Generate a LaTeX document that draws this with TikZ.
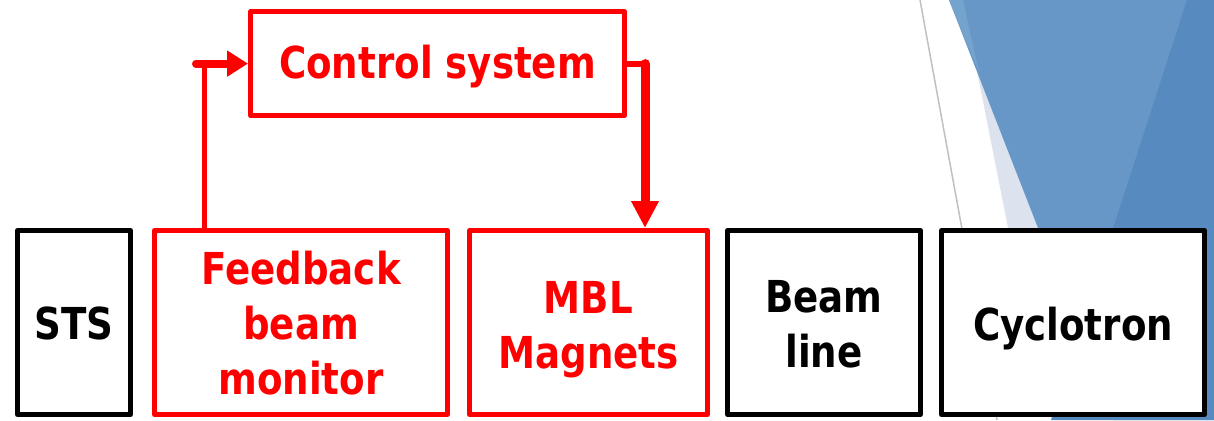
\documentclass[tikz,border=0pt]{standalone}
\usepackage{fontspec}
\setmainfont{DejaVu Sans}[FakeStretch=0.845]
\usetikzlibrary{arrows.meta}
\definecolor{rd}{HTML}{FF0000}
\definecolor{bmid}{HTML}{6797C6}
\definecolor{bdark}{HTML}{578ABE}
\definecolor{blite}{HTML}{74A3CD}
\definecolor{lav}{HTML}{DDE2EF}
\definecolor{gline}{HTML}{C0C0C0}
\tikzset{
  blk/.style={draw=black, fill=white, line width=5pt, rectangle, line join=round, inner sep=0pt},
  redblk/.style={blk, draw=rd},
  txt/.style={align=center, inner sep=0pt, font=\fontsize{44}{55}\selectfont\bfseries, text=black},
  redtxt/.style={txt, text=rd},
  conn/.style={draw=rd, line cap=round},
}
\begin{document}
\begin{tikzpicture}[x=1pt,y=-1pt]
\useasboundingbox (0,0) rectangle (1214,420);
% background decoration
\fill[lav] (963,0) -- (1008,228) -- (1040,228) -- cycle;
\fill[bmid] (949,0) -- (1214,0) -- (1214,420) -- (1113,420) -- cycle;
\fill[blite] (949,0) -- (963,0) -- (979,72) -- cycle;
\fill[bdark] (1187,0) -- (1214,0) -- (1214,420) -- (1051,420) -- cycle;
\draw[gline, line width=1.5pt] (920,0) -- (997,420);
% boxes
\node[blk, minimum width=113pt, minimum height=184pt] (sts) at (74,322.5) {};
\node[redblk, minimum width=293pt, minimum height=184pt] (fb) at (301,322.5) {};
\node[redblk, minimum width=238pt, minimum height=184pt] (mbl) at (588.5,322.5) {};
\node[blk, minimum width=193pt, minimum height=184pt] (bl) at (824,322.5) {};
\node[blk, minimum width=263pt, minimum height=184pt] (cyc) at (1073,322.5) {};
\node[redblk, minimum width=374pt, minimum height=104pt] (ctl) at (437.5,63.6) {};
% texts
\node[txt] (sts-t) at ([yshift=-1pt]sts.center) {STS};
\node[redtxt] (fb-t) at ([yshift=-1pt]fb.center) {Feedback\\beam\\monitor};
\node[redtxt] (mbl-t) at ([yshift=-7pt]mbl.center) {MBL\\Magnets};
\node[txt] (bl-t) at ([yshift=-2pt]bl.center) {Beam\\line};
\node[txt] (cyc-t) at ([yshift=-6pt]cyc.center) {Cyclotron};
\node[redtxt] (ctl-t) at ([yshift=-3pt]ctl.center) {Control system};
% connectors
\coordinate (c1) at (204,63.6);
\coordinate (c0) at (196,63.6);
\coordinate (xo) at (645,0);
\draw[conn, line width=5pt, line cap=butt] (c1 |- fb.north) -- (c1);
\draw[conn, line width=8pt, -{Triangle[length=21pt,width=25pt]}] (c0) -- (ctl.west);
\draw[conn, line width=6pt, line cap=butt] (ctl.east) -- (ctl.east -| xo);
\draw[conn, line width=9pt, -{Triangle[length=27pt,width=26pt]}] (ctl.east -| xo) -- (mbl.north -| xo);
\end{tikzpicture}
\end{document}
